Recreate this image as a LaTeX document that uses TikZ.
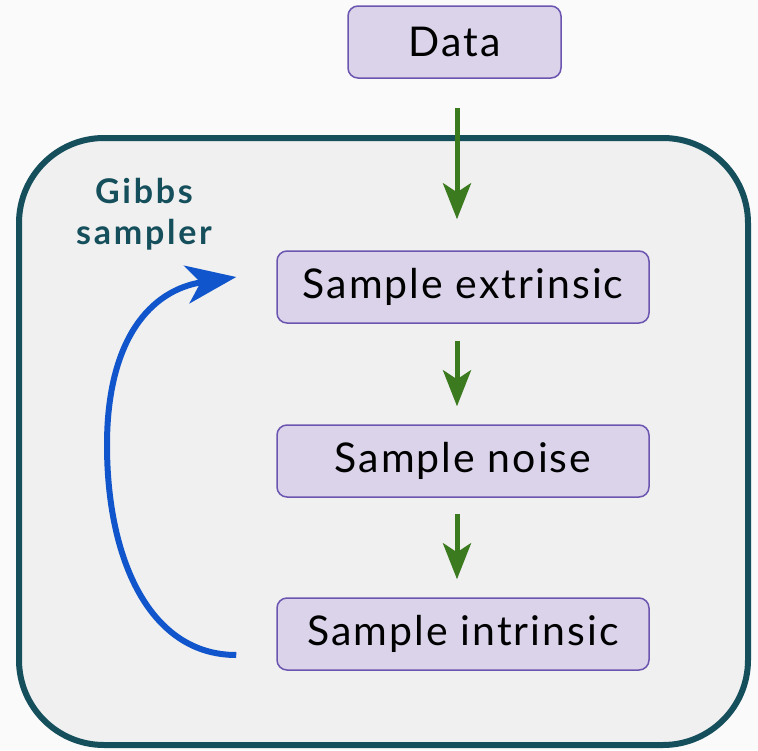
\documentclass[tikz,border=0pt]{standalone}
\usepackage{fontspec}
\setmainfont{Lato}
\usetikzlibrary{arrows.meta}
\definecolor{bgpage}{HTML}{FAFAFA}
\definecolor{bgbox}{HTML}{F0F0F0}
\definecolor{teal}{HTML}{154F5C}
\definecolor{lav}{HTML}{DAD3EA}
\definecolor{lavline}{HTML}{6B55B0}
\definecolor{leaf}{HTML}{3B7A1E}
\definecolor{loopblue}{HTML}{1155CC}
\begin{document}
\begin{tikzpicture}[x=1pt,y=-1pt,
  step box/.style={draw=lavline, line width=1.5pt, fill=lav, rounded corners=10pt,
    minimum width=372pt, minimum height=72pt,
    font=\fontsize{41}{48}\selectfont\addfontfeatures{LetterSpace=5}},
  flow/.style={draw=leaf, line width=5pt, -{Stealth[length=36pt,width=28pt,inset=9pt]}},
  loop/.style={draw=loopblue, line width=6pt, -{Stealth[length=50pt,width=38pt,inset=14pt]}}]
\fill[bgpage] (0,0) rectangle (758,750);
\useasboundingbox (0,0) rectangle (758,750);
\draw[teal, line width=6pt, fill=bgbox, rounded corners=85pt] (19,138) rectangle (748,745);

\node[step box, minimum width=213pt] (data) at (454.5,42) {Data};
\node[step box] (ext) at (463,287) {Sample extrinsic};
\node[step box] (noise) at (463,461) {Sample noise};
\node[step box] (intr) at (463,634) {Sample intrinsic};
\node[text=teal, font=\bfseries\fontsize{34}{41}\selectfont\addfontfeatures{LetterSpace=8},
  align=center] (gibbs) at (144,214) {Gibbs\\sampler};

\draw[flow, shorten <=29pt, shorten >=31pt] ([xshift=2.5pt]data.south) -- ([xshift=-6pt]ext.north);
\draw[flow, shorten <=17pt, shorten >=18pt] ([xshift=-6pt]ext.south) -- ([xshift=-6pt]noise.north);
\draw[flow, shorten <=16pt, shorten >=18pt] ([xshift=-6pt]noise.south) -- ([xshift=-6pt]intr.north);

\coordinate (loopstart) at ([xshift=-40pt,yshift=-21pt]intr.west);
\coordinate (loopend) at ([xshift=-40pt,yshift=10pt]ext.west);
\draw[loop] (loopstart) .. controls (150,655) and (107,560) .. (107,445)
  .. controls (107,340) and (150,290) .. (loopend);
\end{tikzpicture}
\end{document}
